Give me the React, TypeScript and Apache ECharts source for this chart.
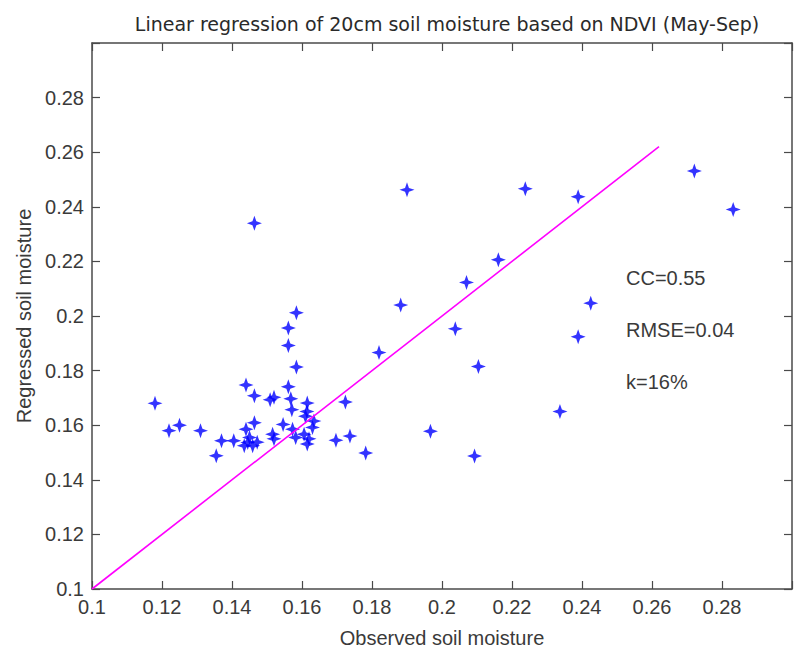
import React, { useEffect, useRef } from "react";
import * as echarts from "echarts";

const titleText = "Linear regression of 20cm soil moisture based on NDVI (May-Sep)";
const xName = "Observed soil moisture";
const yName = "Regressed soil moisture";
const statsLabels = ["CC=0.55", "RMSE=0.04", "k=16%"];

const observed = [
  0.118, 0.122, 0.125, 0.131, 0.1355, 0.137, 0.1405, 0.144, 0.1464, 0.144,
  0.1464, 0.1445, 0.1435, 0.1459, 0.1472, 0.145, 0.1464, 0.1509, 0.152, 0.1516,
  0.152, 0.1546, 0.1561, 0.1568, 0.1571, 0.1561, 0.1561, 0.1584, 0.1584, 0.1573,
  0.1582, 0.1606, 0.162, 0.1615, 0.1615, 0.1614, 0.161, 0.163, 0.1634, 0.1697,
  0.1737, 0.1724, 0.1782, 0.182, 0.1882, 0.19, 0.1967, 0.2038, 0.207, 0.2093,
  0.2104, 0.2161, 0.2238, 0.2337, 0.2389, 0.2389, 0.2425, 0.2721, 0.2832,
];
const regressed = [
  0.168, 0.158, 0.16, 0.158, 0.1488, 0.1543, 0.1543, 0.1747, 0.1708, 0.1585,
  0.1609, 0.1537, 0.1525, 0.1525, 0.1538, 0.1555, 0.234, 0.1693, 0.1702, 0.1567,
  0.155, 0.1603, 0.1741, 0.1697, 0.1657, 0.1892, 0.1956, 0.2012, 0.1813, 0.1585,
  0.1555, 0.1567, 0.155, 0.1531, 0.1681, 0.165, 0.1633, 0.1592, 0.1615, 0.1545,
  0.156, 0.1685, 0.1498, 0.1866, 0.204, 0.2462, 0.1578, 0.1953, 0.2123, 0.1487,
  0.1815, 0.2206, 0.2466, 0.165, 0.2437, 0.1924, 0.2047, 0.2531, 0.239,
];
const fitLineX = [0.1, 0.262];
const fitLineY = [0.1, 0.262];

const FONT = "'Liberation Sans', Arial, sans-serif";
const TITLE_FONT = "'DejaVu Sans', sans-serif";
const TEXT = "#3a3a3a";
const AXIS = "#4a4a4a";
const STAR = "path://M0,-10 L2.6,-2.6 L10,0 L2.6,2.6 L0,10 L-2.6,2.6 L-10,0 L-2.6,-2.6 Z";

const fmt = (v: number) => (v > 0.299 ? "" : String(Math.round(v * 100) / 100));

export default function App() {
  const ref = useRef<HTMLDivElement>(null);
  useEffect(() => {
    if (!ref.current) return;
    const chart = echarts.init(ref.current, undefined, { renderer: "svg" });
    const baseAxis = {
      type: "value" as const,
      min: 0.1,
      max: 0.3,
      interval: 0.02,
      splitLine: { show: false },
      axisLine: { show: true, lineStyle: { color: AXIS, width: 1.5 } },
      axisTick: { show: true, inside: true, length: 8, lineStyle: { color: AXIS, width: 1.2 } },
    };
    chart.setOption({
      animation: false,
      backgroundColor: "#ffffff",
      title: {
        text: titleText,
        left: 442,
        top: 9,
        textAlign: "center",
        textStyle: { fontFamily: TITLE_FONT, fontSize: 19, fontWeight: "normal", color: "#2a2a2a" },
      },
      grid: { left: 92, right: 2, top: 43, bottom: 56, containLabel: false },
      xAxis: [
        {
          ...baseAxis,
          position: "bottom",
          name: xName,
          nameLocation: "middle",
          nameGap: 39,
          nameTextStyle: { fontFamily: FONT, fontSize: 20, color: TEXT },
          axisLabel: { margin: 8, fontFamily: FONT, fontSize: 20, color: TEXT, formatter: fmt },
        },
        { ...baseAxis, position: "top", axisLabel: { show: false } },
      ],
      yAxis: [
        {
          ...baseAxis,
          position: "left",
          name: yName,
          nameLocation: "middle",
          nameGap: 52,
          nameTextStyle: { fontFamily: FONT, fontSize: 20, color: TEXT },
          axisLabel: { margin: 8, fontFamily: FONT, fontSize: 20, color: TEXT, formatter: fmt },
        },
        { ...baseAxis, position: "right", axisLabel: { show: false } },
      ],
      graphic: statsLabels.map((t, i) => ({
        type: "text",
        left: 626,
        top: 268 + i * 52,
        style: { text: t, fontFamily: FONT, fontSize: 20, fill: TEXT },
      })),
      series: [
        {
          type: "line",
          data: fitLineX.map((x, i) => [x, fitLineY[i]]),
          symbol: "none",
          lineStyle: { color: "#ff00ff", width: 1.6 },
          z: 3,
        },
        {
          type: "scatter",
          data: observed.map((x, i) => [x, regressed[i]]),
          symbol: STAR,
          symbolSize: 15,
          itemStyle: { color: "#0000ff" },
          z: 2,
        },
      ],
    });
    return () => chart.dispose();
  }, []);
  return (
    <div
      ref={ref}
      style={{ position: "fixed", left: 0, top: 0, width: 795, height: 653, background: "#fff" }}
    />
  );
}
